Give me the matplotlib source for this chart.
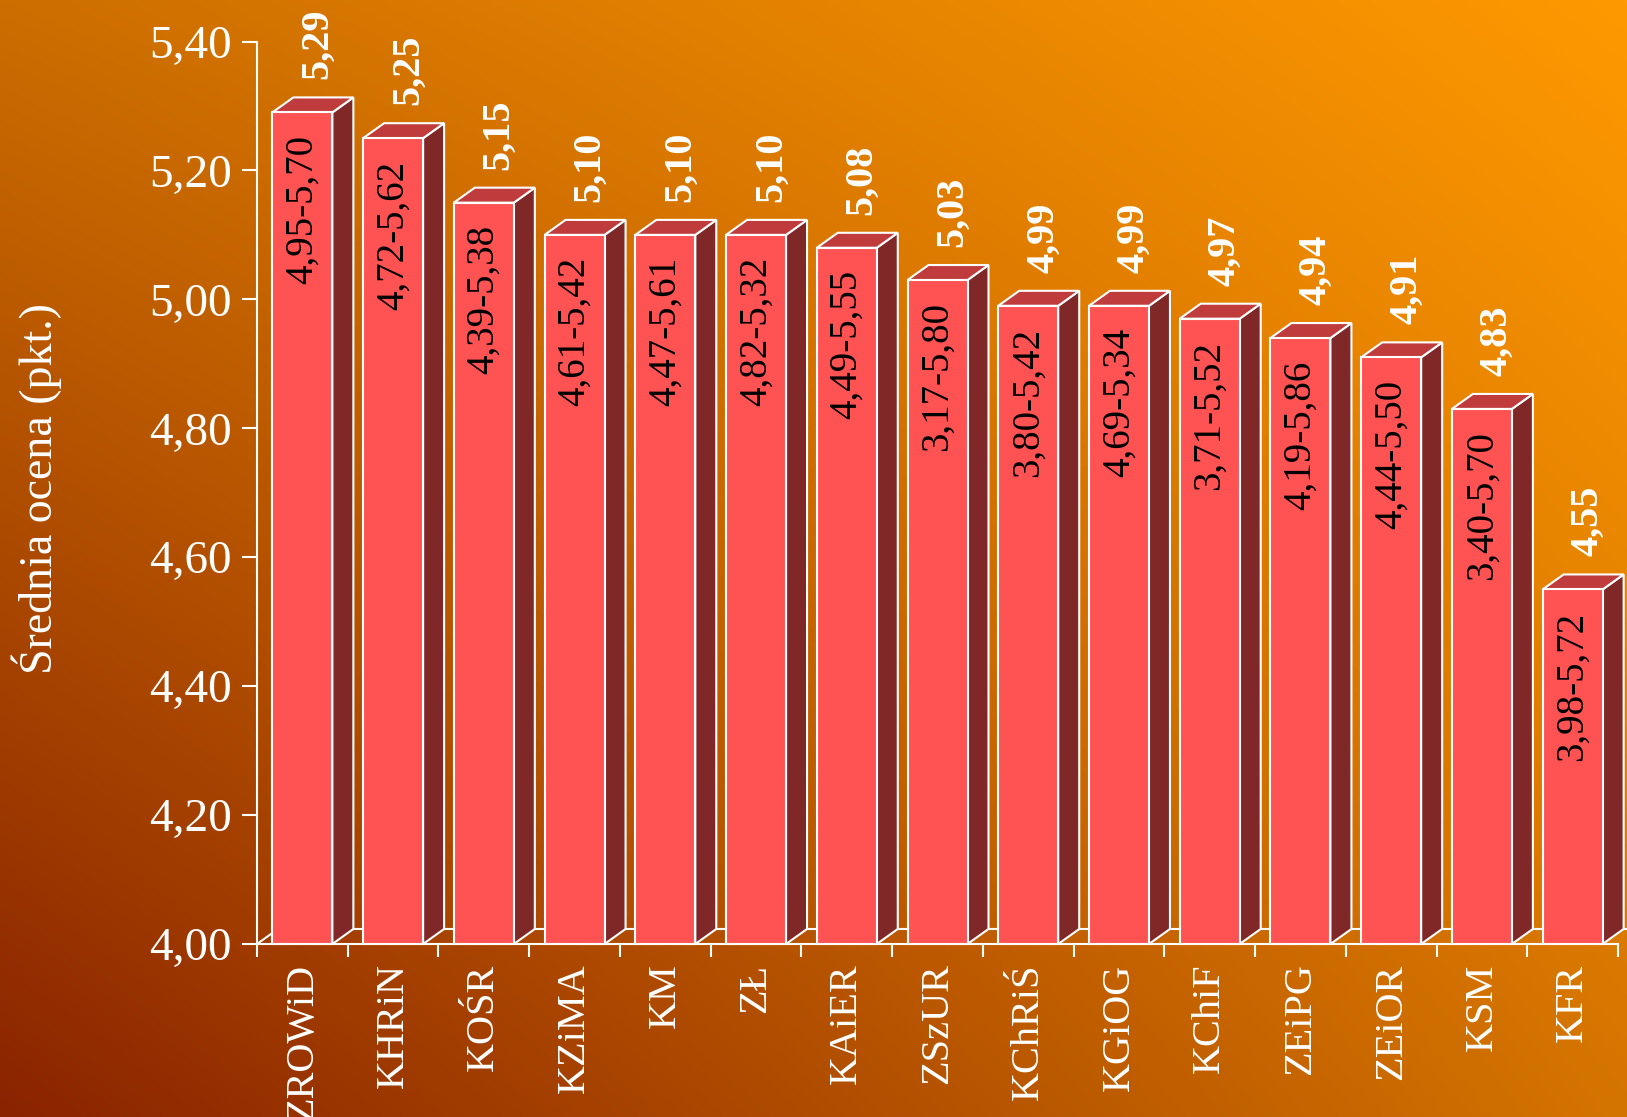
import numpy as np
import matplotlib
matplotlib.use("Agg")
import matplotlib.pyplot as plt
from matplotlib.patches import Polygon
from matplotlib.ticker import FixedLocator, FuncFormatter

categories = ["ZROWiD", "KHRiN", "KOŚR", "KZiMA", "KM", "ZŁ", "KAiER", "ZSzUR",
              "KChRiŚ", "KGiOG", "KChiF", "ZEiPG", "ZEiOR", "KSM", "KFR"]
means = [5.29, 5.25, 5.15, 5.10, 5.10, 5.10, 5.08, 5.03,
         4.99, 4.99, 4.97, 4.94, 4.91, 4.83, 4.55]
ranges = ["4,95-5,70", "4,72-5,62", "4,39-5,38", "4,61-5,42", "4,47-5,61",
          "4,82-5,32", "4,49-5,55", "3,17-5,80", "3,80-5,42", "4,69-5,34",
          "3,71-5,52", "4,19-5,86", "4,44-5,50", "3,40-5,70", "3,98-5,72"]
y_ticks = [4.0, 4.2, 4.4, 4.6, 4.8, 5.0, 5.2, 5.4]

FRONT = "#FF5252"
SIDE = "#802828"
TOP = "#C03C3C"
plt.rcParams["font.family"] = ["Liberation Serif", "DejaVu Serif"]

W, H, DPI = 1627, 1117, 100
fig = plt.figure(figsize=(W / DPI, H / DPI), dpi=DPI)

# gradient background
bg = fig.add_axes([0, 0, 1, 1], zorder=-10)
tl, tr = np.array([204, 110, 0]), np.array([255, 153, 0])
bl, br = np.array([138, 35, 0]), np.array([212, 116, 0])
u = np.linspace(0, 1, 300)[None, :, None]
v = np.linspace(0, 1, 300)[:, None, None]
img = (1 - v) * ((1 - u) * tl + u * tr) + v * ((1 - u) * bl + u * br)
bg.imshow(img / 255, extent=[0, 1, 0, 1], aspect="auto", interpolation="bilinear")
bg.axis("off")

left, right = 257 / W, 1618 / W
bottom, top = (H - 944) / H, (H - 41.5) / H
ax = fig.add_axes([left, bottom, right - left, top - bottom])
ax.patch.set_alpha(0)

n = len(categories)
ax.set_xlim(0, n)
ax.set_ylim(4.0, 5.4)

ax_w_px = (right - left) * W
ax_h_px = (top - bottom) * H
dx = 21 / (ax_w_px / n)
dy = 15 / (ax_h_px / 1.4)
bw = 60 / (ax_w_px / n)

# floor
ax.plot([0, dx, n + dx], [4.0, 4.0 + dy, 4.0 + dy], color="white", lw=1.5,
        zorder=1, clip_on=False)

x = np.arange(n) + 0.5
ax.bar(x, np.array(means) - 4.0, bottom=4.0, width=bw, color=FRONT,
       edgecolor="white", linewidth=1.5, zorder=3, clip_on=False)

for xi, m, r in zip(x, means, ranges):
    xl, xr = xi - bw / 2, xi + bw / 2
    side = Polygon([(xr, 4.0), (xr + dx, 4.0 + dy), (xr + dx, m + dy), (xr, m)],
                   closed=True, facecolor=SIDE, edgecolor="white", lw=1.5,
                   zorder=2, clip_on=False)
    topf = Polygon([(xl, m), (xl + dx, m + dy), (xr + dx, m + dy), (xr, m)],
                   closed=True, facecolor=TOP, edgecolor="white", lw=1.5,
                   zorder=2, clip_on=False)
    ax.add_patch(side)
    ax.add_patch(topf)
    ax.annotate(f"{m:.2f}".replace(".", ","), xy=(xi, m + dy), xytext=(11, 13),
                textcoords="offset points", rotation=90, ha="center", va="bottom",
                color="white", fontsize=29, fontweight="bold", annotation_clip=False)
    ax.annotate(r, xy=(xi, m), xytext=(0, -16), textcoords="offset points",
                rotation=90, ha="center", va="top", color="black", fontsize=28,
                zorder=5, annotation_clip=False)

for s in ["top", "right"]:
    ax.spines[s].set_visible(False)
for s in ["left", "bottom"]:
    ax.spines[s].set_color("white")
    ax.spines[s].set_linewidth(1.5)

ax.yaxis.set_major_locator(FixedLocator(y_ticks))
ax.yaxis.set_major_formatter(FuncFormatter(lambda val, p: f"{val:.2f}".replace(".", ",")))
ax.tick_params(axis="y", colors="white", labelsize=34, length=11, width=1.5, pad=7)

ax.set_xticks(np.arange(n + 1))
ax.set_xticklabels([])
ax.set_xticks(x, minor=True)
ax.set_xticklabels(categories, minor=True, rotation=90, va="top", ha="center")
ax.tick_params(axis="x", which="major", colors="white", length=9.5, width=1.5)
ax.tick_params(axis="x", which="minor", length=0, labelsize=29, labelcolor="white", pad=14)

ax.set_ylabel("Średnia ocena (pkt.)", color="white", fontsize=33)
ax.yaxis.set_label_coords((62 - 257) / ax_w_px, 0.505)

fig.savefig("out.png", dpi=DPI)
